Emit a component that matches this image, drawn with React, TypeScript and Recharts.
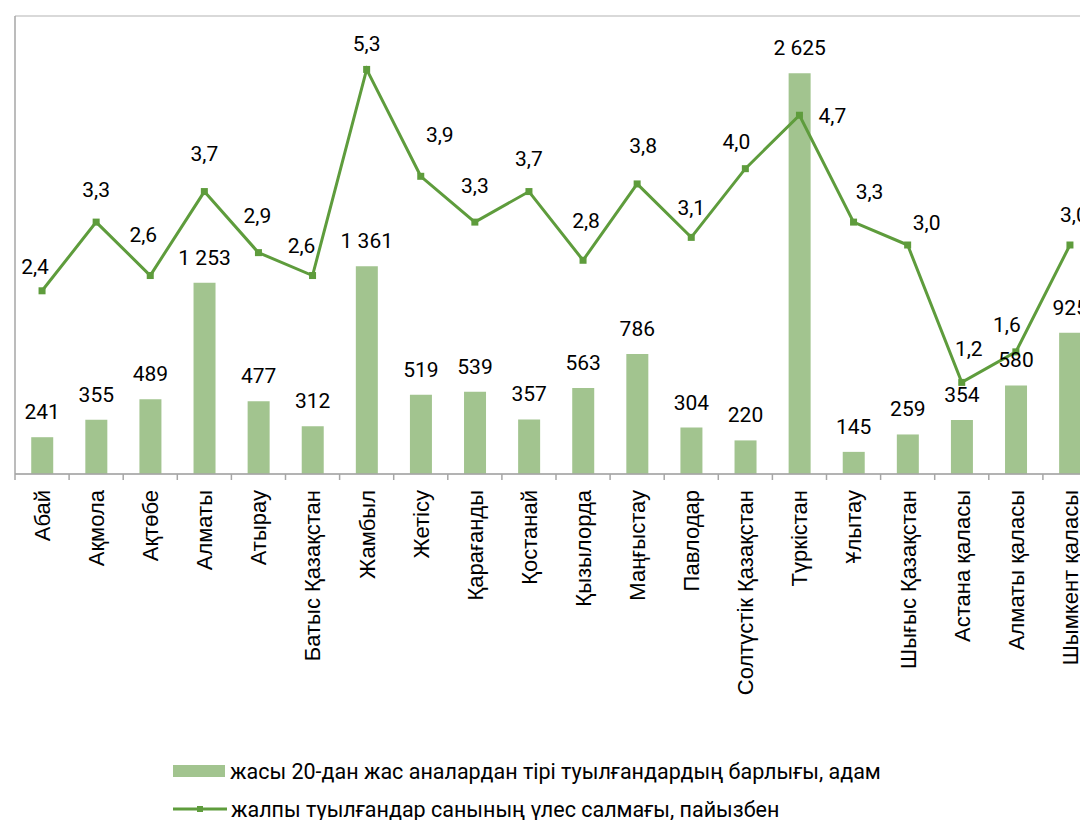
import {
  ComposedChart,
  Bar,
  Line,
  XAxis,
  YAxis,
  CartesianGrid,
  LabelList,
} from "recharts";

const REGIONS = [
  "Абай",
  "Ақмола",
  "Ақтөбе",
  "Алматы",
  "Атырау",
  "Батыс Қазақстан",
  "Жамбыл",
  "Жетісу",
  "Қарағанды",
  "Қостанай",
  "Қызылорда",
  "Маңғыстау",
  "Павлодар",
  "Солтүстік Қазақстан",
  "Түркістан",
  "Ұлытау",
  "Шығыс Қазақстан",
  "Астана қаласы",
  "Алматы қаласы",
  "Шымкент қаласы",
];

// births to mothers under 20, persons
const BIRTHS = [
  241, 355, 489, 1253, 477, 312, 1361, 519, 539, 357, 563, 786, 304, 220, 2625,
  145, 259, 354, 580, 925,
];

// share of total births, %
const SHARE = [
  2.4, 3.3, 2.6, 3.7, 2.9, 2.6, 5.3, 3.9, 3.3, 3.7, 2.8, 3.8, 3.1, 4.0, 4.7, 3.3,
  3.0, 1.2, 1.6, 3.0,
];

const LEFT_TICKS = [0, 500, 1000, 1500, 2000, 2500, 3000];

const BAR_NAME = "жасы 20-дан жас аналардан тірі туылғандардың барлығы, адам";
const LINE_NAME = "жалпы туылғандар санының үлес салмағы, пайызбен";

const BAR_COLOR = "#a2c48f";
const LINE_COLOR = "#5e9c3c";
const AXIS_COLOR = "#a6a6a6";
const GRID_COLOR = "#d9d9d9";

// label nudges for the line values (dx, dy from the point), Excel style
const LINE_LABEL_NUDGE: [number, number][] = [
  [-7, -17], [0, -25], [-7, -34], [0, -31], [-1, -30], [-11, -23], [0, -18],
  [19, -34], [0, -29], [0, -26], [3, -32], [6, -31], [0, -22], [-9, -20],
  [33, 8], [16, -23], [19, -15], [7, -26], [-9, -20], [4, -23],
];

const data = REGIONS.map((name, i) => ({
  name,
  births: BIRTHS[i],
  share: SHARE[i],
}));

// non-breaking space so the label text is not wrapped to bar width
const fmtThousands = (v: number) =>
  v >= 1000
    ? `${Math.floor(v / 1000)}\u00a0${String(v % 1000).padStart(3, "0")}`
    : String(v);

const fmtShare = (v: number) => v.toFixed(1).replace(".", ",");

const HALF_BAND = 1082 / 20 / 2;

function RegionTick(props: any) {
  const { x, y, payload } = props;
  const half = payload?.offset ?? HALF_BAND;
  const ty = y + 16;
  return (
    <g>
      <line x1={x - half} y1={y} x2={x - half} y2={y + 6} stroke={AXIS_COLOR} strokeWidth={1.5} />
      <text
        x={x}
        y={ty}
        dy="0.36em"
        transform={`rotate(-90, ${x}, ${ty})`}
        textAnchor="end"
        fontFamily="'Liberation Sans', Arial, sans-serif"
        fontSize={22}
        fill="#000"
      >
        {payload.value}
      </text>
    </g>
  );
}

function SquareDot(props: any) {
  const { cx, cy } = props;
  if (cx == null || cy == null) return null;
  return <rect x={cx - 3.5} y={cy - 3.5} width={7} height={7} fill={LINE_COLOR} />;
}

function ShareLabel(props: any) {
  const { x, y, value, index } = props;
  const [dx, dy] = LINE_LABEL_NUDGE[index] ?? [0, -20];
  return (
    <text
      x={x + dx}
      y={y + dy}
      textAnchor="middle"
      fontFamily="Roboto, sans-serif"
      fontSize={21}
      fill="#000"
    >
      {fmtShare(value)}
    </text>
  );
}

export default function App() {
  return (
    <div style={{ position: "relative", width: 1080, height: 812, overflow: "hidden" }}>
      <ComposedChart
        width={1100}
        height={716}
        data={data}
        margin={{ top: 8, right: 11, left: 0, bottom: 0 }}
        barCategoryGap="30%"
      >
        <CartesianGrid vertical={false} stroke={GRID_COLOR} strokeWidth={2} />
        <XAxis
          dataKey="name"
          interval={0}
          tickLine={false}
          tickSize={0}
          tickMargin={0}
          height={250}
          axisLine={{ stroke: AXIS_COLOR, strokeWidth: 1.5 }}
          tick={<RegionTick />}
        />
        <YAxis
          domain={[0, 3000]}
          ticks={LEFT_TICKS}
          width={7}
          tick={false}
          tickSize={7}
          tickLine={{ stroke: AXIS_COLOR, strokeWidth: 1.5 }}
          axisLine={{ stroke: AXIS_COLOR, strokeWidth: 1.5 }}
        />
        <YAxis yAxisId="right" orientation="right" domain={[0, 6]} hide />
        <Bar dataKey="births" name={BAR_NAME} fill={BAR_COLOR} isAnimationActive={false}>
          <LabelList
            dataKey="births"
            position="top"
            offset={18}
            formatter={(v: any) => fmtThousands(Number(v))}
            style={{ fontFamily: "Roboto, sans-serif", fontSize: 21, fill: "#000" }}
          />
        </Bar>
        <Line
          yAxisId="right"
          dataKey="share"
          name={LINE_NAME}
          stroke={LINE_COLOR}
          strokeWidth={3}
          dot={<SquareDot />}
          activeDot={false}
          isAnimationActive={false}
        >
          <LabelList dataKey="share" content={<ShareLabel />} />
        </Line>
      </ComposedChart>

      <div
        style={{
          position: "absolute",
          left: 165,
          top: 744,
          fontFamily: "Roboto, sans-serif",
          fontSize: 21.5,
          color: "#000",
          whiteSpace: "nowrap",
        }}
      >
        <div style={{ display: "flex", alignItems: "center", height: 38 }}>
          <span style={{ width: 52, height: 12, background: BAR_COLOR, marginRight: 5 }} />
          <span>{BAR_NAME}</span>
        </div>
        <div style={{ display: "flex", alignItems: "center", height: 38 }}>
          <svg width={54} height={10} style={{ marginRight: 4 }}>
            <line x1={0} y1={5} x2={54} y2={5} stroke={LINE_COLOR} strokeWidth={3} />
            <rect x={24} y={2} width={6} height={6} fill={LINE_COLOR} />
          </svg>
          <span>{LINE_NAME}</span>
        </div>
      </div>
    </div>
  );
}
